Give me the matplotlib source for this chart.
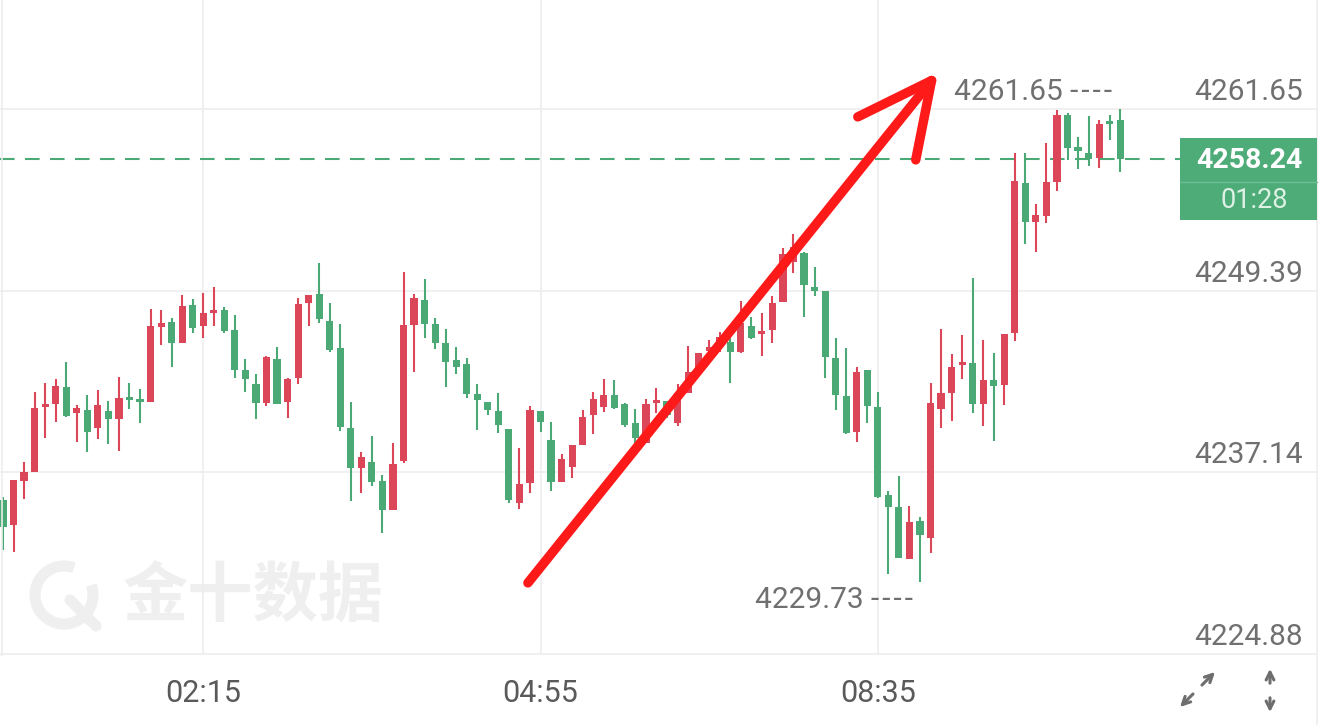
import matplotlib
matplotlib.use("Agg")
import matplotlib.pyplot as plt
from matplotlib.patches import Rectangle, Arc

# 5-minute candles (red = up, green = down)
opens = [4235.27, 4233.59, 4236.55, 4237.16, 4241.54, 4241.75, 4242.89, 4241.14, 4241.34, 4240.13,
         4241.27, 4240.73, 4242.22, 4242.01, 4241.88, 4246.94, 4247.27, 4245.86, 4248.42, 4247.00,
         4247.88, 4248.08, 4246.73, 4244.04, 4243.09, 4241.81, 4244.78, 4241.88, 4243.50, 4248.55,
         4249.16, 4247.34, 4245.52, 4240.13, 4237.43, 4237.84, 4236.55, 4234.60, 4237.90, 4247.07,
         4248.76, 4247.14, 4245.86, 4244.71, 4244.44, 4242.42, 4241.88, 4241.27, 4240.06, 4235.07,
         4236.42, 4241.27, 4239.32, 4236.49, 4237.50, 4238.98, 4241.00, 4241.54, 4242.35, 4241.75,
         4240.46, 4239.12, 4241.81, 4241.95, 4240.46, 4242.49, 4244.04, 4245.32, 4245.66, 4245.93,
         4245.25, 4247.00, 4246.46, 4246.73, 4248.62, 4251.32, 4251.93, 4249.63, 4249.36, 4244.85,
         4242.28, 4239.86, 4244.04, 4241.54, 4235.61, 4234.80, 4231.30, 4233.86, 4232.71, 4241.41,
         4242.49, 4244.37, 4244.51, 4241.75, 4243.36, 4243.03, 4246.53, 4256.64, 4254.01, 4254.42,
         4256.71, 4261.23, 4259.07, 4258.67, 4258.33, 4260.69, 4260.89]
highs = [4235.47, 4236.62, 4237.84, 4242.55, 4243.16, 4243.43, 4244.58, 4241.68, 4242.35, 4242.69,
         4241.95, 4243.57, 4243.16, 4242.76, 4248.15, 4248.08, 4247.54, 4249.09, 4248.82, 4249.23,
         4249.63, 4248.28, 4247.74, 4244.78, 4243.77, 4244.98, 4245.59, 4243.50, 4248.89, 4249.09,
         4251.25, 4248.55, 4247.14, 4241.88, 4238.51, 4239.59, 4236.96, 4239.12, 4250.64, 4249.16,
         4250.17, 4247.54, 4246.80, 4245.59, 4244.85, 4243.09, 4241.88, 4242.49, 4240.06, 4238.78,
         4241.61, 4241.27, 4240.53, 4238.37, 4238.98, 4241.34, 4242.55, 4243.43, 4243.36, 4241.81,
         4241.41, 4242.08, 4242.82, 4241.95, 4243.09, 4245.66, 4245.18, 4246.06, 4246.60, 4246.19,
         4248.69, 4247.61, 4247.88, 4249.03, 4252.26, 4253.21, 4251.99, 4250.98, 4249.36, 4246.19,
         4245.52, 4244.24, 4244.04, 4242.55, 4235.88, 4236.89, 4234.87, 4234.13, 4243.16, 4246.80,
         4245.12, 4246.40, 4250.24, 4246.06, 4245.18, 4246.46, 4258.67, 4258.67, 4255.23, 4259.34,
         4261.57, 4261.36, 4259.74, 4261.16, 4260.89, 4261.23, 4261.65]
lows = [4231.90, 4231.77, 4235.34, 4237.16, 4239.45, 4240.53, 4240.87, 4239.18, 4238.51, 4239.39,
        4239.05, 4238.58, 4241.41, 4240.46, 4241.88, 4245.72, 4244.24, 4245.86, 4246.53, 4246.19,
        4247.00, 4246.53, 4243.50, 4242.55, 4240.73, 4241.61, 4241.75, 4240.80, 4243.09, 4247.00,
        4247.21, 4245.25, 4239.93, 4235.21, 4235.75, 4236.22, 4233.05, 4234.60, 4237.77, 4243.90,
        4246.19, 4245.45, 4242.89, 4243.77, 4242.15, 4239.99, 4241.00, 4239.79, 4235.07, 4234.67,
        4235.75, 4239.86, 4235.88, 4236.49, 4236.76, 4238.98, 4239.72, 4241.21, 4241.41, 4240.20,
        4239.12, 4239.12, 4241.14, 4240.80, 4240.26, 4242.49, 4243.70, 4244.91, 4245.25, 4243.16,
        4245.18, 4246.13, 4244.98, 4245.86, 4248.62, 4250.58, 4247.61, 4249.03, 4243.50, 4241.34,
        4239.72, 4239.18, 4240.46, 4235.41, 4230.28, 4231.36, 4231.30, 4229.73, 4231.70, 4240.13,
        4240.60, 4243.43, 4241.14, 4240.26, 4239.25, 4241.68, 4245.99, 4252.53, 4251.99, 4253.95,
        4256.10, 4258.19, 4257.59, 4257.79, 4257.65, 4259.54, 4257.39]
closes = [4233.45, 4236.62, 4237.16, 4241.48, 4241.75, 4242.96, 4240.94, 4241.48, 4239.86, 4241.68,
          4240.73, 4242.15, 4242.01, 4241.88, 4247.00, 4247.21, 4245.86, 4248.35, 4246.87, 4247.88,
          4248.02, 4246.67, 4244.04, 4243.43, 4241.81, 4244.91, 4241.75, 4243.43, 4248.49, 4249.09,
          4247.47, 4245.39, 4240.20, 4237.43, 4238.17, 4236.49, 4234.60, 4237.70, 4247.07, 4248.89,
          4247.14, 4245.86, 4244.58, 4244.24, 4242.42, 4242.01, 4241.34, 4240.33, 4235.27, 4236.35,
          4241.34, 4240.53, 4236.49, 4238.04, 4238.98, 4240.87, 4242.08, 4242.35, 4241.48, 4240.33,
          4239.45, 4241.75, 4242.01, 4241.00, 4242.49, 4243.90, 4245.18, 4245.59, 4246.26, 4245.25,
          4247.21, 4246.19, 4246.53, 4248.55, 4251.86, 4252.33, 4249.77, 4249.36, 4244.91, 4242.35,
          4239.79, 4243.90, 4241.61, 4235.47, 4234.80, 4231.36, 4233.79, 4232.92, 4241.81, 4242.49,
          4244.24, 4244.51, 4241.75, 4243.36, 4242.96, 4246.46, 4256.78, 4254.01, 4254.49, 4256.71,
          4261.23, 4259.00, 4258.80, 4258.26, 4260.62, 4260.62, 4258.24]

time_labels = ["02:15", "04:55", "08:35"]
time_label_idx = [19, 51, 83]
price_ticks = [4261.65, 4249.39, 4237.14, 4224.88]
countdown = "01:28"
watermark = "金十数据"

# hand-drawn trend arrow (candle index, price)
arrow_start = (49.8, 4229.68)
arrow_tip = (88.1, 4263.55)
arrow_barbs = [(81.1, 4261.10), (86.6, 4258.20)]

UP = "#DC4659"
DOWN = "#4BA975"
GRID = "#EDEDED"
LABEL = "#707070"
MARK_DASH = " -\u200a-\u200a-\u200a-"

plt.rcParams["font.family"] = ["Roboto", "DejaVu Sans"]

W, H = 1320, 725
fig = plt.figure(figsize=(W / 100, H / 100), dpi=100)

bg = fig.add_axes([0, 0, 1, 1], zorder=0)
bg.set_xlim(0, W)
bg.set_ylim(H, 0)
bg.axis("off")

ax = fig.add_axes([0, 70 / H, 1317 / W, 655 / H], zorder=1)
ax.patch.set_alpha(0)
ax.set_xlim(-0.285, 124.67)
ax.set_ylim(4224.82, 4268.98)
for s in ax.spines.values():
    s.set_visible(False)
ax.set_xticks([])
ax.set_yticks([])

fg = fig.add_axes([0, 0, 1, 1], zorder=2)
fg.set_xlim(0, W)
fg.set_ylim(H, 0)
fg.axis("off")

# watermark
bg.add_patch(Arc((64, 595), 58, 58, theta1=-20, theta2=290, lw=8, color="#EFEFEF"))
bg.plot([70, 96], [600, 626], color="#EFEFEF", lw=8, solid_capstyle="round")
bg.text(253, 597, watermark, fontsize=47, fontweight="bold", color="#EFEFEF",
        ha="center", va="center", family=["Noto Sans CJK SC", "DejaVu Sans"])

# grid
for p in price_ticks:
    ax.axhline(p, color=GRID, lw=1.2, zorder=0)
for i in time_label_idx:
    ax.axvline(i, color=GRID, lw=1.2, zorder=0)
fig.add_artist(plt.Line2D([1317 / W] * 2, [0, 1], color=GRID, lw=1.2))
fig.add_artist(plt.Line2D([1.5 / W] * 2, [70 / H, 1], color=GRID, lw=1.2))

# candles
xs = range(len(closes))
colors = [UP if c >= o else DOWN for o, c in zip(opens, closes)]
ax.vlines(xs, lows, highs, colors=colors, lw=1.5, zorder=3)
bottoms = [min(o, c) for o, c in zip(opens, closes)]
heights = [max(abs(c - o), 0.2) for o, c in zip(opens, closes)]
ax.bar(xs, heights, bottom=bottoms, width=0.68, color=colors, zorder=3)

# last price line and box
last = closes[-1]
ax.axhline(last, xmax=1180 / 1317, color=DOWN, lw=1.5, dashes=(7, 5), zorder=2)
fg.add_patch(Rectangle((1180, 138), 137, 82, color="#4DAC78", lw=0))
fg.plot([1180, 1317], [181.5, 181.5], color="#6FBE93", lw=1)
fg.text(1249, 160, f"{last:.2f}", color="white", fontsize=20.5, fontweight="bold",
        ha="center", va="center")
fg.text(1254, 200, countdown, color="#DDF1E4", fontsize=19.5, ha="center", va="center")

# price axis labels
for p in price_ticks:
    ax.annotate(f"{p:.2f}", xy=(1303 / 1317, p), xycoords=ax.get_yaxis_transform(),
                xytext=(0, 6.5), textcoords="offset points", ha="right", va="baseline",
                fontsize=21.5, color=LABEL, annotation_clip=False)

# time labels
for i, t in zip(time_label_idx, time_labels):
    ax.annotate(t, xy=(i, 0), xycoords=ax.get_xaxis_transform(),
                xytext=(0, -34), textcoords="offset points", ha="center", va="baseline",
                fontsize=22, color="#5A5A5A", annotation_clip=False)

# high / low markers
hi_idx = max(range(len(highs)), key=lambda k: highs[k])
lo_idx = min(range(len(lows)), key=lambda k: lows[k])
ax.annotate(f"{highs[hi_idx]:.2f}" + MARK_DASH, xy=(hi_idx, highs[hi_idx]), xytext=(-6, 12),
            textcoords="offset points", ha="right", va="center", fontsize=21.5,
            color=LABEL, annotation_clip=False)
ax.annotate(f"{lows[lo_idx]:.2f}" + MARK_DASH, xy=(lo_idx, lows[lo_idx]), xytext=(-5, -13),
            textcoords="offset points", ha="right", va="center", fontsize=21.5,
            color=LABEL, annotation_clip=False)

# red arrow
ax.plot([arrow_start[0], arrow_tip[0]], [arrow_start[1], arrow_tip[1]],
        color="#FF1A1A", lw=6.8, solid_capstyle="round", zorder=10, clip_on=False)
for bx, by in arrow_barbs:
    ax.plot([bx, arrow_tip[0]], [by, arrow_tip[1]], color="#FF1A1A", lw=6.8,
            solid_capstyle="round", zorder=10, clip_on=False)

# corner icons
icon = dict(arrowstyle="->", color="#6E6E6E", lw=2.2, mutation_scale=14)
fg.annotate("", xy=(1217, 670), xytext=(1200, 687), arrowprops=icon)
fg.annotate("", xy=(1178, 709), xytext=(1195, 692), arrowprops=icon)
fg.annotate("", xy=(1270, 666), xytext=(1270, 686), arrowprops=icon)
fg.annotate("", xy=(1270, 715), xytext=(1270, 695), arrowprops=icon)

fig.savefig("out.png", dpi=100)
